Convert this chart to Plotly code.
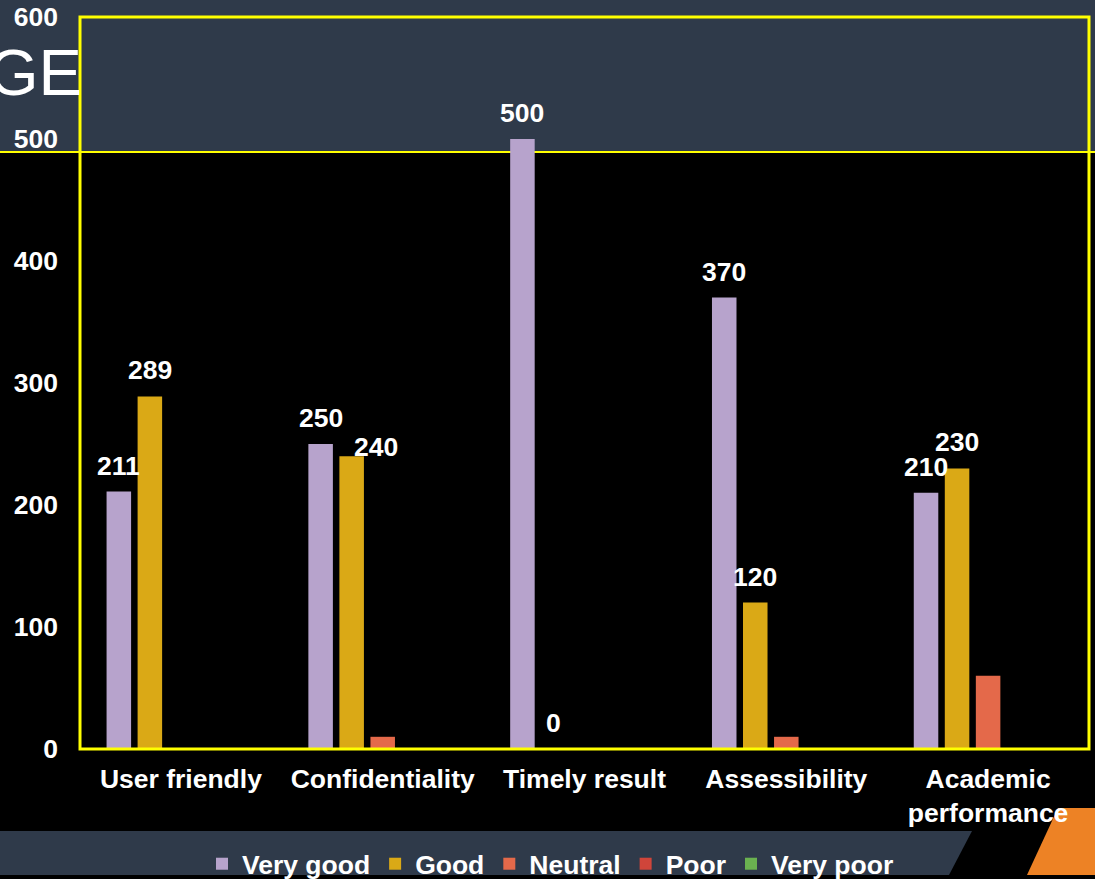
import plotly.graph_objects as go

# ---- data -------------------------------------------------------------
categories = ["User friendly", "Confidentiality", "Timely result",
              "Assessibility", "Academic<br>performance"]
series_names = ["Very good", "Good", "Neutral", "Poor", "Very poor"]
very_good = [211, 250, 500, 370, 210]
good = [289, 240, 0, 120, 230]
neutral = [0, 10, 0, 10, 60]
poor = [0, 0, 0, 0, 0]
very_poor = [0, 0, 0, 0, 0]
y_ticks = [0, 100, 200, 300, 400, 500, 600]

colors = ["#B7A3CC", "#DAA916", "#E4694A", "#D0453A", "#6AB150"]
SLATE = "#2F3A4A"
YELLOW = "#FFFF00"
ORANGE = "#ED8225"
FONT = "Liberation Sans, Arial, sans-serif"
FS = 26.5

# ---- page geometry ----------------------------------------------------
W, H = 1095, 879
ML, MR, MT, MB = 80, 6, 17, 130
PW, PH = W - ML - MR, H - MT - MB
BARGAP, GROUPGAP = 0.231, 0.21


def px_x(x):
    return (x - ML) / PW


def px_y(y):
    return (H - MB - y) / PH


bold = dict(family=FONT, size=FS, color="white", weight="bold")

fig = go.Figure()
all_series = [very_good, good, neutral, poor, very_poor]
for name, vals, col in zip(series_names, all_series, colors):
    fig.add_trace(go.Bar(name=name, x=categories, y=vals,
                         marker=dict(color=col, line=dict(width=0))))

# value labels for the first two series, placed above each bar
slot_px = PW / len(categories) * (1 - BARGAP) / len(series_names)
label_nudge = {(1, 1): (24, -17)}
annotations = []
for si in (0, 1):
    for ci, (cat, v) in enumerate(zip(categories, all_series[si])):
        dx, dy = label_nudge.get((si, ci), (0, 0))
        annotations.append(dict(
            x=cat, y=v, xref="x", yref="y", text=str(v), showarrow=False,
            xshift=(si - 2) * slot_px + dx, yshift=26 + dy, font=bold,
        ))

# slide title fragment peeking out behind the chart
annotations.append(dict(
    x=px_x(84), y=px_y(72), xref="paper", yref="paper", text="GE",
    xanchor="right", yanchor="middle", showarrow=False,
    font=dict(family=FONT, size=65, color="white", weight="normal"),
))

shapes = [
    # header band
    dict(type="rect", xref="paper", yref="paper", layer="below",
         x0=px_x(0), x1=px_x(W), y0=px_y(152), y1=px_y(0),
         fillcolor=SLATE, line=dict(width=0)),
    # footer band with slanted end
    dict(type="path", xref="paper", yref="paper", layer="below",
         path=f"M {px_x(0)},{px_y(831)} L {px_x(972)},{px_y(831)} "
              f"L {px_x(949)},{px_y(875)} L {px_x(0)},{px_y(875)} Z",
         fillcolor=SLATE, line=dict(width=0)),
    # orange corner accent
    dict(type="path", xref="paper", yref="paper", layer="below",
         path=f"M {px_x(1058)},{px_y(808)} L {px_x(W)},{px_y(808)} "
              f"L {px_x(W)},{px_y(875)} L {px_x(1027)},{px_y(875)} Z",
         fillcolor=ORANGE, line=dict(width=0)),
    # header rule
    dict(type="line", xref="paper", yref="paper", layer="below",
         x0=px_x(0), x1=px_x(W), y0=px_y(152), y1=px_y(152),
         line=dict(color=YELLOW, width=2)),
    # plot frame
    dict(type="rect", xref="paper", yref="paper", layer="above",
         x0=0, x1=1, y0=0, y1=1, line=dict(color=YELLOW, width=3)),
]

fig.update_layout(
    width=W, height=H,
    margin=dict(l=ML, r=MR, t=MT, b=MB, autoexpand=False),
    paper_bgcolor="black",
    plot_bgcolor="rgba(0,0,0,0)",
    barmode="group", bargap=BARGAP, bargroupgap=GROUPGAP,
    font=bold,
    showlegend=True,
    legend=dict(orientation="h", x=px_x(202), xanchor="left",
                y=px_y(864), yanchor="middle",
                bgcolor="rgba(0,0,0,0)", borderwidth=0, font=bold),
    annotations=annotations,
    shapes=shapes,
)
fig.update_xaxes(showgrid=False, zeroline=False, showline=False, ticks="",
                 automargin=False, ticklabelstandoff=11, tickfont=bold)
fig.update_yaxes(range=[0, 600], tickvals=y_ticks, showgrid=False,
                 zeroline=False, showline=False, ticks="", automargin=False,
                 ticklabelstandoff=21, tickfont=bold)

fig.write_html("out.html")
